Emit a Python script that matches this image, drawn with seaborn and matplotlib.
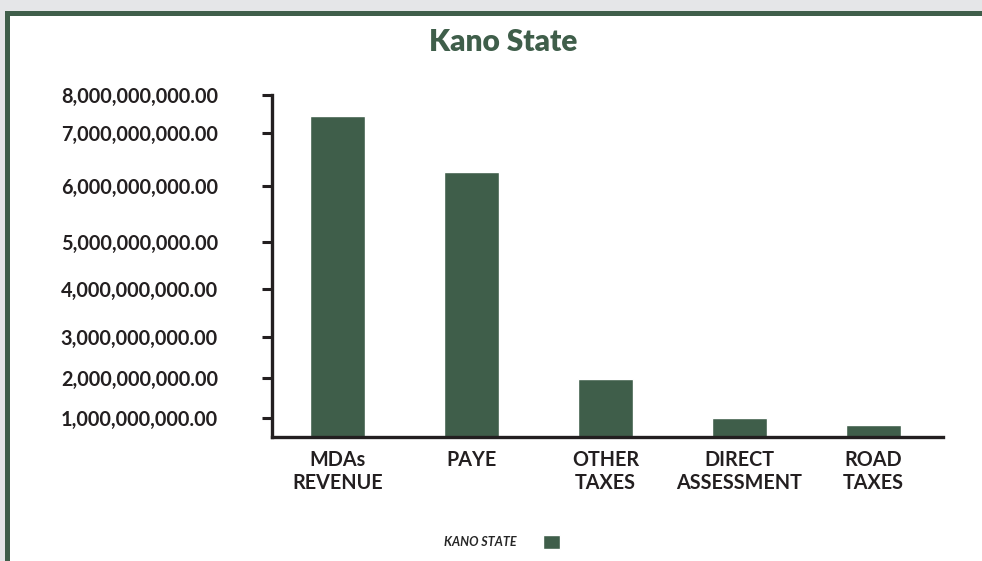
import numpy as np
import pandas as pd
import matplotlib.pyplot as plt
import seaborn as sns
from matplotlib.patches import Rectangle

categories = ["MDAs\nREVENUE", "PAYE", "OTHER\nTAXES", "DIRECT\nASSESSMENT", "ROAD\nTAXES"]
revenue = [7.45e9, 6.26e9, 1.98e9, 1.0e9, 0.63e9]
series_name = "KANO STATE"
title = "Kano State"
tick_values = [1e9, 2e9, 3e9, 4e9, 5e9, 6e9, 7e9, 8e9]

# the source axis is not evenly spaced, so map values through a piecewise scale
scale_vals = [0, 1e9, 2e9, 3e9, 4e9, 5e9, 6e9, 7e9, 8e9]
scale_pos = [0, 19, 59, 100, 148, 195, 251, 304, 342]

green = "#3f5e4a"
dark = "#231f20"

sns.set_style("white")
plt.rcParams['font.family'] = ['Lato', 'DejaVu Sans']

df = pd.DataFrame({"category": categories, "revenue": revenue})

fig = plt.figure(figsize=(9.82, 5.61), dpi=100, facecolor="#e5e6e8")
fig.patches.append(Rectangle((5 / 982, 0), 1, 550 / 561, transform=fig.transFigure,
                             facecolor=green, edgecolor="none", zorder=-2))
fig.patches.append(Rectangle((10 / 982, 0), 1, 545 / 561, transform=fig.transFigure,
                             facecolor="white", edgecolor="none", zorder=-1))

ax = fig.add_axes([272 / 982, 1 - 437 / 561, (943 - 272) / 982, (437 - 95) / 561])
ax.set_facecolor("none")
sns.barplot(data=df, x="category", y="revenue", color=green, width=0.41,
            saturation=1, ax=ax)

fwd = lambda v: np.interp(v, scale_vals, scale_pos)
inv = lambda p: np.interp(p, scale_pos, scale_vals)
ax.set_yscale("function", functions=(fwd, inv))
ax.set_ylim(0, 8e9)
ax.set_xlim(-0.49, 4.52)
ax.set_yticks(tick_values)
ax.set_yticklabels([f"{v:,.2f}" for v in tick_values])
ax.set_xlabel("")
ax.set_ylabel("")

for s in ["top", "right"]:
    ax.spines[s].set_visible(False)
for s in ["left", "bottom"]:
    ax.spines[s].set_linewidth(2.4)
    ax.spines[s].set_color(dark)

ax.tick_params(axis="y", left=True, length=7, width=2.2, color=dark, pad=32,
               labelsize=14.3, labelcolor=dark)
ax.tick_params(axis="x", bottom=False, length=0, pad=9, labelsize=14.2, labelcolor=dark)
for lbl in ax.get_yticklabels() + ax.get_xticklabels():
    lbl.set_fontweight("bold")
for lbl in ax.get_xticklabels():
    lbl.set_linespacing(1.2)
    lbl.set_verticalalignment("top")

fig.text(503 / 982, 1 - 42 / 561, title, ha="center", va="center",
         fontsize=21.5, fontweight="heavy", color=green)

handle = Rectangle((0, 0), 1, 1, facecolor=green)
fig.legend([handle], [series_name], loc="center", bbox_to_anchor=(502 / 982, 1 - 542 / 561),
           frameon=False, markerfirst=False, handlelength=1.3, handleheight=1.3,
           handletextpad=2.1, prop={"size": 9, "weight": "bold", "style": "italic"})

fig.savefig("out.png", dpi=100, facecolor=fig.get_facecolor())
